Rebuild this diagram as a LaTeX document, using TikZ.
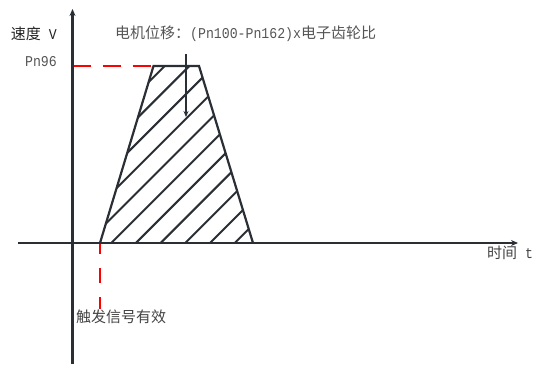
\documentclass[tikz,border=0pt]{standalone}
\usepackage{fontspec}
\setmainfont{Liberation Mono}[FakeStretch=0.88]
\newfontfamily\cjk{Noto Sans CJK SC}
\usetikzlibrary{arrows.meta}
\definecolor{axisc}{HTML}{2A2E35}
\definecolor{txtgray}{HTML}{555555}
\definecolor{txtdark}{HTML}{222222}
\tikzset{
  axisline/.style={draw=axisc,line width=2.3pt,-{Stealth[length=7pt,width=6pt]}},
  shapeline/.style={draw=axisc,line width=2.2pt,line join=miter},
  hatchline/.style={draw=axisc,line width=2pt},
  reddash/.style={draw=red,line width=2.6pt},
  lbl/.style={inner sep=0pt,font=\fontsize{15}{17}\selectfont}
}
\begin{document}
\begin{tikzpicture}[x=1pt,y=-1pt]
\useasboundingbox (0,0) rectangle (537,364);
% coordinates
\coordinate (yb) at (72.5,364);
\coordinate (yt) at (72.5,9);
\coordinate (xl) at (18,243);
\coordinate (xr) at (518,243);
\coordinate (bl) at (100,243);
\coordinate (tl) at (153.5,66);
\coordinate (tr) at (199,66);
\coordinate (br) at (253,243);
\coordinate (ya) at (72.5,66);
\coordinate (trig) at (100,309);
\coordinate (as) at (186,54);
\coordinate (ae) at (186,117);
% hatch
\begin{scope}
\clip (bl) -- (tl) -- (tr) -- (br) -- cycle;
\foreach \c in {-37,-12.3,12.4,37.1,61.8,86.5,111.2,135.9,160.6,185.3,210,234.7}{
  \draw[hatchline] (\c,243) -- ++(220,-220);
}
\end{scope}
% trapezoid
\draw[shapeline] (bl) -- (tl) -- (tr) -- (br);
% red dashes
\draw[reddash,dash pattern=on 18pt off 12pt] (ya) -- (tl);
\draw[reddash,dash pattern=on 11pt off 14pt on 15pt off 14pt on 15pt off 20pt] (bl) -- (trig);
% axes
\draw[axisline] (xl) -- (xr);
\draw[axisline] (yb) -- (yt);
% vertical arrow
\draw[draw=axisc,line width=2pt,-{Stealth[length=6pt,width=5pt]}] (as) -- (ae);
% labels
\node[lbl,text=txtdark,anchor=east] (vl) at (57,34) {{\cjk 速度} V};
\node[lbl,text=txtgray,anchor=west] (ttl) at (115,34) {{\cjk 电机位移：}(Pn100-Pn162)x{\cjk 电子齿轮比}};
\node[lbl,text=txtgray,anchor=east] (pn) at (57,62) {Pn96};
\node[lbl,text=txtdark!85,anchor=west] (tl2) at (487,253) {{\cjk 时间} t};
\node[lbl,text=txtdark!85,anchor=west] (trg) at (76,317) {\cjk 触发信号有效};
\end{tikzpicture}
\end{document}
